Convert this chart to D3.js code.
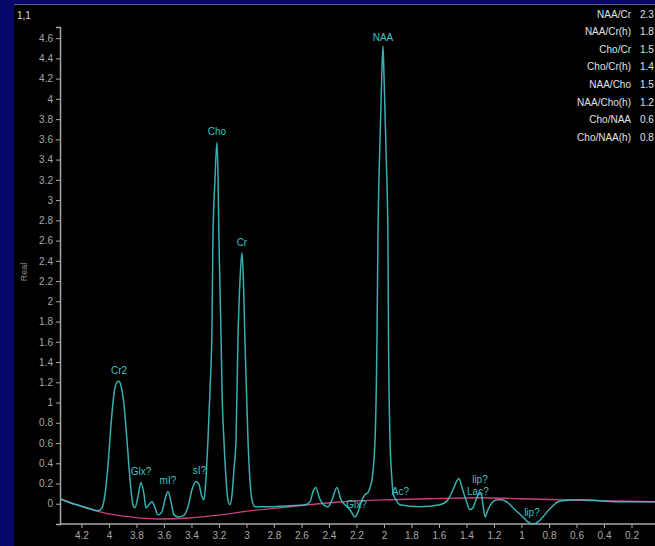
<!DOCTYPE html>
<html>
<head>
<meta charset="utf-8">
<script src="https://cdn.jsdelivr.net/npm/d3@7"></script>
<style>
  html, body { margin: 0; padding: 0; background: #07076a; }
  svg { display: block; }
</style>
</head>
<body>
<svg id="spec" width="655" height="546"></svg>
<script>
// spectrum (ppm, real)
var specPpm = [4.356, 4.284, 4.211, 4.138, 4.080, 4.051, 4.029, 4.007, 3.985, 3.964, 3.942, 3.927, 3.913, 3.891, 3.869, 3.847,
  3.825, 3.811, 3.789, 3.767, 3.745, 3.731, 3.709, 3.687, 3.665, 3.644, 3.615, 3.593, 3.571, 3.549, 3.527, 3.498, 3.462,
  3.425, 3.396, 3.367, 3.345, 3.324, 3.309, 3.295, 3.280, 3.265, 3.251, 3.244, 3.229, 3.215, 3.207, 3.200, 3.185, 3.178,
  3.164, 3.149, 3.135, 3.120, 3.105, 3.091, 3.076, 3.062, 3.047, 3.033, 3.025, 3.011, 2.989, 2.975, 2.960, 2.938, 2.829,
  2.684, 2.575, 2.538, 2.516, 2.495, 2.473, 2.451, 2.407, 2.378, 2.342, 2.313, 2.284, 2.247, 2.211, 2.189, 2.160, 2.138,
  2.116, 2.102, 2.087, 2.065, 2.051, 2.044, 2.029, 2.015, 2.007, 2.000, 1.985, 1.971, 1.967, 1.956, 1.942, 1.935, 1.913,
  1.884, 1.738, 1.593, 1.535, 1.498, 1.469, 1.455, 1.433, 1.404, 1.375, 1.353, 1.331, 1.309, 1.295, 1.280, 1.265, 1.244,
  1.215, 1.178, 1.142, 1.098, 1.047, 0.989, 0.953, 0.916, 0.880, 0.844, 0.807, 0.771, 0.735, 0.698, 0.575, 0.429, 0.284,
  0.138, 0.029];
var specReal = [0.05, 0.01, -0.02, -0.05, -0.07, -0.04, 0.09, 0.38, 0.78, 1.08, 1.20, 1.21, 1.17, 0.98, 0.63, 0.24,
  -0.01, -0.04, 0.07, 0.21, 0.09, -0.04, -0.01, 0.02, -0.04, -0.11, -0.08, 0.04, 0.12, 0.02, -0.11, -0.13, -0.12,
  -0.03, 0.14, 0.22, 0.19, 0.07, 0.04, 0.24, 0.63, 1.13, 1.72, 2.61, 3.20, 3.57, 3.25, 2.61, 1.67, 1.13,
  0.63, 0.26, 0.04, -0.01, 0.09, 0.34, 0.63, 1.62, 2.21, 2.48, 2.31, 1.62, 0.63, 0.24, 0.04, -0.03, -0.03,
  -0.02, -0.01, 0.02, 0.12, 0.16, 0.07, 0.01, -0.03, 0.04, 0.16, 0.04, -0.01, -0.06, -0.13, -0.08, 0.04, 0.09,
  0.11, 0.16, 0.24, 0.63, 1.62, 2.61, 3.59, 4.28, 4.52, 4.24, 3.49, 2.61, 1.62, 0.63, 0.24, 0.11, 0.04,
  -0.01, -0.03, -0.01, 0.04, 0.14, 0.23, 0.25, 0.16, 0.04, -0.06, -0.04, 0.04, 0.10, 0.11, -0.01, -0.13, -0.06,
  0.01, 0.04, 0.04, 0.01, -0.06, -0.13, -0.18, -0.20, -0.18, -0.13, -0.07, -0.02, 0.02, 0.03, 0.04, 0.03, 0.02,
  0.02, 0.02];

// fitted baseline
var basePpm = [4.356, 4.211, 4.065, 3.847, 3.629, 3.411, 3.193, 2.975, 2.684, 2.393, 2.175, 1.956, 1.665, 1.302, 1.011, 0.720, 0.429, 0.029];
var baseReal = [0.05, -0.02, -0.08, -0.13, -0.15, -0.14, -0.11, -0.07, -0.03, 0.01, 0.03, 0.04, 0.05, 0.06, 0.05, 0.04, 0.03, 0.02];

// peak labels
var peakNames = ["NAA", "Cho", "Cr", "Cr2", "Glx?", "mI?", "sI?", "Glx?", "Ac?", "lip?", "Lac?", "lip?"];
var peakPpm = [2.007, 3.215, 3.033, 3.927, 3.767, 3.571, 3.342, 2.200, 1.880, 1.302, 1.317, 0.924];
var peakReal = [4.61, 3.68, 2.58, 1.32, 0.32, 0.23, 0.33, -0.01, 0.12, 0.24, 0.12, -0.09];

// metabolite ratios
var ratioNames = ["NAA/Cr", "NAA/Cr(h)", "Cho/Cr", "Cho/Cr(h)", "NAA/Cho", "NAA/Cho(h)", "Cho/NAA", "Cho/NAA(h)"];
var ratioValues = ["2.3", "1.8", "1.5", "1.4", "1.5", "1.2", "0.6", "0.8"];

var xTicks = [4.2, 4, 3.8, 3.6, 3.4, 3.2, 3, 2.8, 2.6, 2.4, 2.2, 2, 1.8, 1.6, 1.4, 1.2, 1, 0.8, 0.6, 0.4, 0.2];
var yTicks = [0, 0.2, 0.4, 0.6, 0.8, 1, 1.2, 1.4, 1.6, 1.8, 2, 2.2, 2.4, 2.6, 2.8, 3, 3.2, 3.4, 3.6, 3.8, 4, 4.2, 4.4, 4.6];

var svg = d3.select("#spec");
var width = +svg.attr("width");
var height = +svg.attr("height");
var font = "'Liberation Sans', Arial, sans-serif";

// black panel on the navy frame
svg.append("rect")
  .attr("x", 14)
  .attr("y", 4)
  .attr("width", width - 14)
  .attr("height", height - 4)
  .attr("fill", "#000");
svg.append("line")
  .attr("x1", 14).attr("x2", width)
  .attr("y1", 4.5).attr("y2", 4.5)
  .attr("stroke", "#5c5c88")
  .attr("stroke-width", 1);

var x = d3.scaleLinear().domain([4.356, 0]).range([60, 659]);
var y = d3.scaleLinear().domain([-0.2, 4.71]).range([524, 27]);

var xAxis = svg.append("g")
  .attr("transform", "translate(0,524)")
  .call(d3.axisBottom(x).tickValues(xTicks).tickSize(4).tickPadding(4).tickFormat(d3.format("")));

var yAxis = svg.append("g")
  .attr("transform", "translate(60,0)")
  .call(d3.axisLeft(y).tickValues(yTicks).tickSize(4).tickPadding(3).tickFormat(d3.format("")));

[xAxis, yAxis].forEach(function(ax) {
  ax.select(".domain").attr("stroke", "#a8a8a8").attr("stroke-width", 1.5);
  ax.selectAll(".tick line").attr("stroke", "#a8a8a8");
  ax.selectAll(".tick text")
    .attr("fill", "#a8a8a8")
    .style("font-family", font)
    .style("font-size", "10px");
});
// x-axis domain runs off to the right edge
xAxis.select(".domain").attr("d", "M60,0H" + width);

svg.append("text")
  .attr("transform", "translate(27,272) rotate(-90)")
  .attr("text-anchor", "middle")
  .attr("fill", "#8c8c8c")
  .style("font-family", font)
  .style("font-size", "9px")
  .text("Real");

svg.append("text")
  .attr("x", 17)
  .attr("y", 19)
  .attr("fill", "#d8d8d8")
  .style("font-family", font)
  .style("font-size", "10px")
  .text("1,1");

var line = d3.line()
  .x(function(d) { return x(d[0]); })
  .y(function(d) { return y(d[1]); })
  .curve(d3.curveMonotoneX);

svg.append("path")
  .attr("d", line(d3.zip(basePpm, baseReal)))
  .attr("fill", "none")
  .attr("stroke", "#c8407e")
  .attr("stroke-width", 1.4);

svg.append("path")
  .attr("d", line(d3.zip(specPpm, specReal)))
  .attr("fill", "none")
  .attr("stroke", "#3cc4c4")
  .attr("stroke-width", 1.5)
  .attr("opacity", 0.9);

svg.append("g")
  .selectAll("text")
  .data(peakNames)
  .enter()
  .append("text")
  .attr("x", function(d, i) { return x(peakPpm[i]); })
  .attr("y", function(d, i) { return y(peakReal[i]); })
  .attr("dy", "0.35em")
  .attr("text-anchor", "middle")
  .attr("fill", "#3cc4c4")
  .style("font-family", font)
  .style("font-size", "10px")
  .text(function(d) { return d; });

var ratios = svg.append("g")
  .selectAll("g")
  .data(ratioNames)
  .enter()
  .append("g")
  .attr("transform", function(d, i) { return "translate(0," + (14 + i * 17.6) + ")"; });

ratios.append("text")
  .attr("x", 631)
  .attr("dy", "0.35em")
  .attr("text-anchor", "end")
  .attr("fill", "#e0e0e0")
  .style("font-family", font)
  .style("font-size", "10px")
  .text(function(d) { return d; });

ratios.append("text")
  .attr("x", 640)
  .attr("dy", "0.35em")
  .attr("fill", "#e0e0e0")
  .style("font-family", font)
  .style("font-size", "10px")
  .text(function(d, i) { return ratioValues[i]; });
</script>
</body>
</html>
